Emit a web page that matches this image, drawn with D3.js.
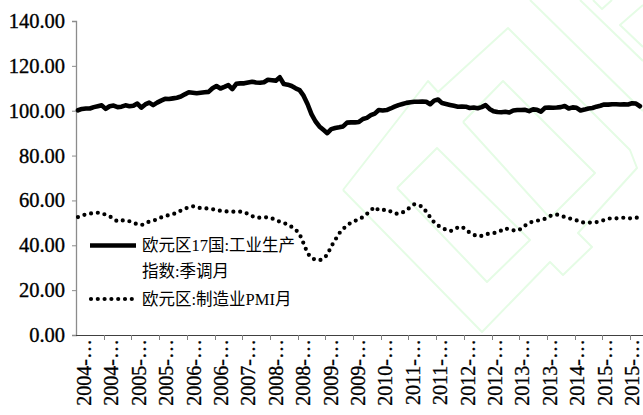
<!DOCTYPE html>
<html><head><meta charset="utf-8">
<script src="https://cdn.jsdelivr.net/npm/d3@7"></script>
<style>
html,body{margin:0;padding:0;background:#fff;}
svg{display:block;}
</style></head>
<body>
<svg id="chart" width="643" height="415"></svg>
<script>
// ---- data ----
const startYear = 2004, startMonth = 1, monthCount = 143;
const ipIndex = [100.2,100.8,101.0,101.0,101.6,102.0,102.4,100.8,102.0,102.3,101.6,101.8,
102.4,102.0,102.2,103.2,101.4,102.8,103.6,102.5,103.6,104.5,105.3,105.2,
105.5,105.8,106.3,107.3,108.2,108.0,107.8,108.0,108.2,108.4,110.0,111.0,
109.9,110.6,111.4,109.6,112.0,112.2,112.2,112.6,112.9,112.6,112.5,112.7,
113.8,113.6,113.4,114.9,111.9,111.6,111.0,110.0,109.2,106.7,103.0,98.5,
95.3,93.0,91.5,90.0,91.8,92.3,92.6,93.0,94.7,94.8,94.8,95.0,
96.3,96.8,98.0,98.7,100.3,100.1,100.3,101.0,101.8,102.5,103.0,103.5,
103.8,104.0,104.0,104.1,104.0,102.9,104.5,105.0,103.4,103.0,102.6,102.2,
101.8,101.9,101.8,101.2,101.4,101.1,101.6,102.5,100.8,99.8,99.4,99.3,
99.5,99.2,100.1,100.3,100.3,100.4,99.8,100.6,100.4,99.6,101.3,101.4,
101.3,101.4,101.6,102.1,101.0,101.5,101.3,100.1,100.5,101.0,101.2,101.8,
102.2,102.8,102.7,102.9,102.9,102.8,102.9,102.8,103.3,103.2,102.0];
const pmi = [52.6,53.2,53.8,54.1,54.4,54.5,54.3,53.6,52.9,51.8,50.6,51.0,
51.2,50.7,50.0,49.4,49.0,49.6,50.6,51.0,51.5,52.4,53.0,53.5,
53.9,54.5,55.5,56.3,57.0,57.4,57.1,56.5,56.5,56.4,56.1,55.7,
55.4,55.2,55.0,55.0,55.0,55.0,54.8,53.9,53.0,52.3,52.3,52.4,
52.5,52.0,51.3,50.5,49.9,49.3,48.2,47.0,45.0,40.9,36.5,34.3,
33.6,33.3,34.0,35.8,39.5,42.4,45.3,47.3,48.9,50.1,50.9,51.6,
52.6,54.0,55.6,57.1,55.6,55.7,55.9,55.1,54.2,54.0,54.6,55.7,
57.0,58.3,57.9,57.2,55.0,52.5,50.2,48.8,47.8,46.9,46.3,46.9,
48.0,48.3,47.0,45.6,44.7,44.0,44.2,44.9,45.2,45.4,45.8,46.6,
47.6,47.0,46.7,46.5,47.4,48.8,50.0,50.6,51.0,51.2,51.8,52.8,
53.6,53.7,53.2,52.6,52.0,51.7,51.1,50.3,50.1,50.1,50.2,50.3,
50.7,51.3,51.9,52.0,52.0,52.2,52.3,52.0,52.0,52.3,52.3];
const yTicks = [0,20,40,60,80,100,120,140];
const tickEvery = 7;
const seriesNames = ["欧元区17国:工业生产", "指数:季调月", "欧元区:制造业PMI月"];

// categories (monthly)
const months = d3.range(monthCount).map(i => {
  const m = startMonth - 1 + i;
  const y = startYear + Math.floor(m / 12);
  const mm = (m % 12) + 1;
  return y + "-" + String(mm).padStart(2, "0");
});
const tickLabels = months.filter((d, i) => i % tickEvery === 0).map(d => d.slice(0, 5) + "…");

// ---- layout ----
const svg = d3.select("#chart");
const x = d3.scaleBand().domain(months).range([76, 641.9]).padding(0);
const y = d3.scaleLinear().domain([0, 140]).range([335, 21]);
const serif = "'Liberation Serif', 'Times New Roman', serif";

// watermark (decorative)
const wm = svg.append("g").attr("fill", "none").attr("stroke", "#e5fce5").attr("stroke-width", 2)
  .attr("stroke-linejoin", "round");
const wmShapes = [
  [[343,190],[428,81],[438,92],[508,28],[630,150],[637,168],[578,233],[592,247],[563,275],[550,262],[482,332],[343,190]],
  [[397,188],[437,148],[530,240],[487,282],[397,188]],
  [[463,122],[503,81],[595,173],[550,218],[463,122]],
  [[530,0],[643,111]],
  [[580,0],[643,61]],
  [[593,0],[602,9],[612,0]],
  [[643,5],[620,25],[643,47]]
];
wmShapes.forEach(s => wm.append("path").attr("d", d3.line()(s)));

// y axis
const yAxis = svg.append("g").attr("transform", "translate(76,0)")
  .call(d3.axisLeft(y).tickValues(yTicks).tickSize(4).tickPadding(7).tickFormat(d3.format(".2f")));
yAxis.select(".domain").attr("stroke", "#8c8c8c").attr("stroke-width", 1.3);
yAxis.selectAll(".tick line").attr("stroke", "#8c8c8c");
yAxis.selectAll(".tick text").attr("font-family", serif)
  .attr("font-size", 20.5).attr("fill", "#000").attr("stroke", "#000").attr("stroke-width", 0.35);

// x axis
const xg = svg.append("g");
xg.append("line").attr("x1", 76).attr("x2", 643).attr("y1", 335.5).attr("y2", 335.5)
  .attr("stroke", "#404040").attr("stroke-width", 1.2);
const tickCats = months.filter((d, i) => i % tickEvery === 0);
xg.selectAll("line.tk").data(tickCats.slice(1)).join("line").attr("class", "tk")
  .attr("x1", d => Math.round(x(d)) + 0.5).attr("x2", d => Math.round(x(d)) + 0.5)
  .attr("y1", 335).attr("y2", 340).attr("stroke", "#808080");
xg.selectAll("text").data(tickCats).join("text")
  .attr("transform", (d, i) => `translate(${x(d) + 15 - 0.3 * i},339) rotate(-90)`)
  .attr("text-anchor", "end")
  .attr("font-family", serif)
  .attr("font-size", 20).attr("fill", "#000").attr("stroke", "#000").attr("stroke-width", 0.3)
  .text((d, i) => tickLabels[i]);

// lines
const cx = (d, i) => x(months[i]) + x.bandwidth() / 2;
svg.append("path").datum(pmi)
  .attr("d", d3.line().x(cx).y(d => y(d)))
  .attr("fill", "none").attr("stroke", "#000").attr("stroke-width", 4.2)
  .attr("stroke-linecap", "round").attr("stroke-dasharray", "0 6.8");
svg.append("path").datum(ipIndex)
  .attr("d", d3.line().x(cx).y(d => y(d)))
  .attr("fill", "none").attr("stroke", "#000").attr("stroke-width", 4.6)
  .attr("stroke-linejoin", "round").attr("stroke-linecap", "round");

// legend
const lg = svg.append("g").attr("font-family", "'Liberation Serif', 'Noto Sans CJK SC', serif")
  .attr("font-size", 16.5).attr("fill", "#000");
lg.append("line").attr("x1", 90).attr("x2", 136).attr("y1", 245.5).attr("y2", 245.5)
  .attr("stroke", "#000").attr("stroke-width", 4.6);
lg.append("line").attr("x1", 91).attr("x2", 135).attr("y1", 299).attr("y2", 299)
  .attr("stroke", "#000").attr("stroke-width", 4.2).attr("stroke-linecap", "round").attr("stroke-dasharray", "0 6.8");
lg.append("text").attr("x", 142).attr("y", 251).text(seriesNames[0]);
lg.append("text").attr("x", 142).attr("y", 277).text(seriesNames[1]);
lg.append("text").attr("x", 142).attr("y", 305).text(seriesNames[2]);
</script>
</body></html>
